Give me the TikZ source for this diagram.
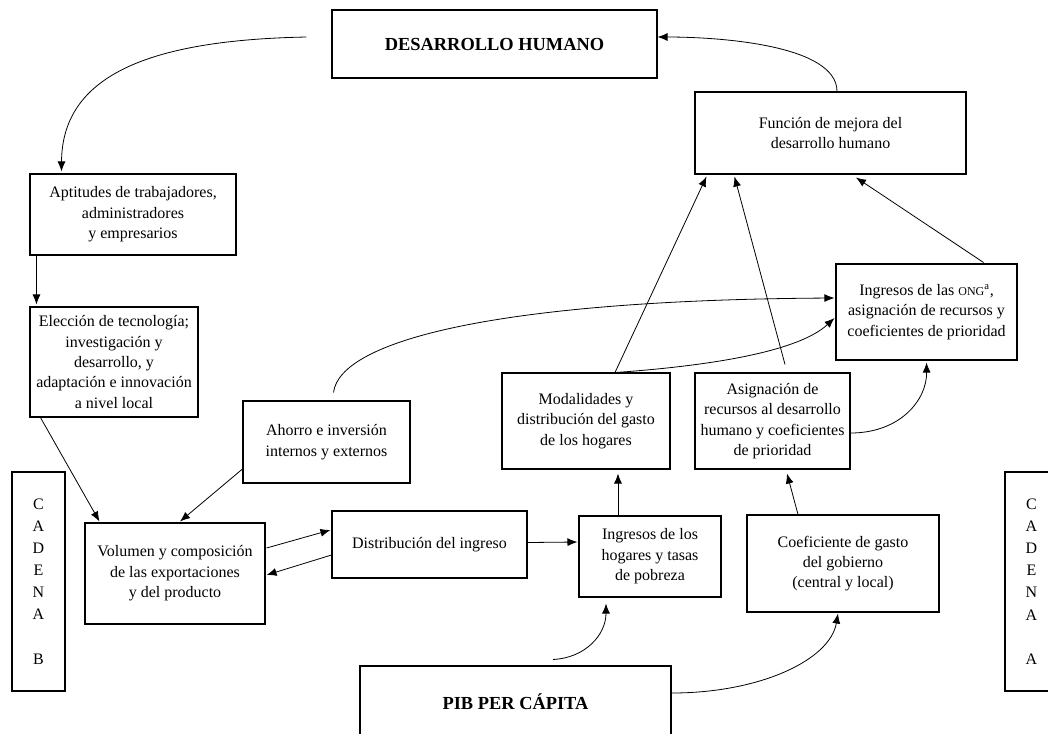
\documentclass[tikz,border=0pt]{standalone}
\usepackage{fontspec}
\setmainfont{Liberation Serif}
\usetikzlibrary{arrows.meta,calc}
\begin{document}
\begin{tikzpicture}[x=0.75pt,y=-0.75pt,
  box/.style={draw,line width=0.8pt,align=center,inner sep=0pt,font=\fontsize{12pt}{15.3pt}\selectfont},
  big/.style={box,font=\fontsize{13.8pt}{16pt}\selectfont\bfseries},
  chain/.style={box,font=\fontsize{12pt}{16.6pt}\selectfont},
  arr/.style={line width=0.6pt,-{Latex[length=7.5pt,width=6pt]}}]
\clip (0,0) rectangle (1048,733);
\fill[white] (0,0) rectangle (1048,733);

\node[big,minimum width=243.75pt,minimum height=51pt] (dh) at (494.5,44) {DESARROLLO HUMANO};
\node[box,minimum width=203.25pt,minimum height=61.5pt] (fun) at (830.5,133) {Función de mejora del\\desarrollo humano};
\node[box,minimum width=154.5pt,minimum height=60.75pt] (apt) at (133,214.5) {Aptitudes de trabajadores,\\administradores\\y empresarios};
\node[box,minimum width=126pt,minimum height=82.5pt] (ele) at (114,362) {Elección de tecnología;\\investigación y\\desarrollo, y\\adaptación e innovación\\a nivel local};
\node[box,minimum width=125.25pt,minimum height=61.5pt] (aho) at (326.5,442) {Ahorro e inversión\\internos y externos};
\node[chain,minimum width=39.75pt,minimum height=164.25pt] (cadb) at (38.5,581.5) {C\\A\\D\\E\\N\\A\\[16.6pt]B};
\node[box,minimum width=135pt,minimum height=75.75pt] (vol) at (175,573.5) {Volumen y composición\\de las exportaciones\\y del producto};
\node[box,minimum width=146.25pt,minimum height=50.25pt] (dis) at (429.5,544.5) {Distribución del ingreso};
\node[box,minimum width=106.5pt,minimum height=60.75pt] (ing) at (650,556.5) {Ingresos de los\\hogares y tasas\\de pobreza};
\node[box,minimum width=126pt,minimum height=72pt] (mod) at (586,421) {Modalidades y\\distribución del gasto\\de los hogares};
\node[box,minimum width=116.25pt,minimum height=72pt] (asi) at (772.5,421) {Asignación de\\recursos al desarrollo\\humano y coeficientes\\de prioridad};
\node[box,minimum width=135.75pt,minimum height=72pt] (ong) at (926.5,312) {Ingresos de las {\fontsize{9pt}{9pt}\selectfont ONG}\textsuperscript{a},\\asignación de recursos y\\coeficientes de prioridad};
\node[box,minimum width=144pt,minimum height=72.75pt] (coe) at (843,563.5) {Coeficiente de gasto\\del gobierno\\(central y local)};
\node[big,minimum width=233.25pt,minimum height=54pt] (pib) at (515.5,702) {PIB PER CÁPITA};
\node[chain,minimum width=39.75pt,minimum height=164.25pt] (cada) at (1031.5,581.5) {C\\A\\D\\E\\N\\A\\[16.6pt]A};

\draw[arr] ($(dh.west)+(-25,-7)$) .. controls (150,40) and (62,75) .. ($(apt.north west)+(32,-2)$);
\draw[arr] ($(fun.north)+(6.5,0)$) .. controls (837,45) and (720,37) .. ($(dh.east)+(0,-7)$);
\draw[arr] ($(apt.south west)+(7,0)$) -- ($(ele.north west)+(7,-2)$);
\draw[arr] ($(ele.south west)+(11,0)$) -- ($(vol.north west)+(15,-1)$);
\draw[arr] ($(aho.west)+(0,27)$) -- ($(vol.north)+(5,-1)$);
\draw[arr] ($(vol.east)+(1,-25.5)$) -- ($(dis.west)+(-1,-14.5)$);
\draw[arr] ($(dis.west)+(0,10.5)$) -- ($(vol.east)+(1,1.5)$);
\draw[arr] ($(dis.east)+(0,-2)$) -- ($(ing.west)+(-1,-14.5)$);
\draw[arr] ($(ing.north)+(-32,0)$) -- ($(mod.south)+(32,4)$);
\draw[arr] ($(coe.north)+(-45,0)$) -- ($(asi.south)+(14.5,4)$);
\draw[arr] ($(pib.north)+(37.5,-6)$) .. controls (585,658) and (606,635) .. ($(ing.south)+(-44,6)$);
\draw[arr] ($(pib.east)+(0,-9)$) .. controls (760,693) and (830,660) .. ($(coe.south)+(-5,1)$);
\draw[arr] ($(mod.north)+(29,0)$) -- ($(fun.south west)+(12,2)$);
\draw[arr] ($(asi.north)+(12.5,-8)$) -- ($(fun.south west)+(40,2)$);
\draw[arr] ($(ong.north east)+(-34,-1)$) -- ($(fun.south)+(25.5,3)$);
\draw[arr] ($(aho.north)+(7,-8)$) .. controls (340,340) and (500,300) .. ($(ong.west)+(-1,-14)$);
\draw[arr] ($(mod.north)+(30,0)$) .. controls (720,365) and (800,350) .. ($(ong.west)+(-1,6)$);
\draw[arr] ($(asi.east)+(0,12)$) .. controls (900,433) and (927,400) .. ($(ong.south)+(0,2)$);
\end{tikzpicture}
\end{document}
